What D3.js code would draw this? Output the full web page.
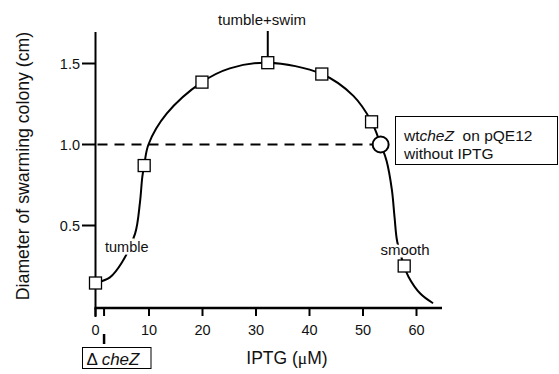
<!DOCTYPE html>
<html>
<head>
<meta charset="utf-8">
<script src="https://cdn.jsdelivr.net/npm/d3@7"></script>
<style>
  body { margin: 0; background: #fff; }
  svg { display: block; }
  text { font-family: "Liberation Sans", Arial, Helvetica, sans-serif; fill: #111; }
</style>
</head>
<body>
<svg id="chart" width="559" height="374"></svg>
<script>
// measured points (squares)
const iptg = [0, 9.1, 19.9, 32.2, 42.3, 51.6, 57.7];
const diameter = [0.145, 0.87, 1.385, 1.505, 1.435, 1.14, 0.25];

// hand-drawn trend curve through the points
const curveX = [0, 2.7, 4.9, 7.4, 8.3, 8.75, 9.1, 9.9, 13.3, 19.9, 25.1, 32.2, 42.3, 48.2, 51.6, 53.3, 54.4, 55.4, 55.9, 56.4, 57.7, 58.5, 60.7, 63.1];
const curveY = [0.145, 0.18, 0.27, 0.45, 0.64, 0.80, 0.87, 1.0, 1.19, 1.385, 1.47, 1.505, 1.435, 1.30, 1.14, 1.0, 0.90, 0.72, 0.55, 0.40, 0.25, 0.184, 0.08, 0.02];

// wild-type cheZ reference
const wtIptg = 53.3, wtDiameter = 1.0;
const deltaIptg = 1.6;

const xTicks = [0, 10, 20, 30, 40, 50, 60];
const yTicks = [0.5, 1.0, 1.5];

const svg = d3.select("#chart");
const x = d3.scaleLinear().domain([0, 60]).range([95.5, 416.5]);
const y = d3.scaleLinear().domain([0, 1.5]).range([306.5, 63.5]);

const axisY0 = 308; // x-axis baseline
const sw = 2;

// axes lines
svg.append("line")
  .attr("x1", x(0)).attr("x2", x(0))
  .attr("y1", 32).attr("y2", 317)
  .attr("stroke", "#000").attr("stroke-width", sw);
svg.append("line")
  .attr("x1", x(0) - 1).attr("x2", 442)
  .attr("y1", axisY0).attr("y2", axisY0)
  .attr("stroke", "#000").attr("stroke-width", 2.4);

// y ticks
let yt = svg.append("g").selectAll("g").data(yTicks).join("g");
yt.append("line")
  .attr("x1", 82).attr("x2", x(0))
  .attr("y1", d => y(d)).attr("y2", d => y(d))
  .attr("stroke", "#000").attr("stroke-width", sw);
yt.append("text")
  .attr("x", 80).attr("y", d => y(d) + 5)
  .attr("text-anchor", "end")
  .style("font-size", "14.5px")
  .text(d => d.toFixed(1));

// x ticks
let xt = svg.append("g").selectAll("g").data(xTicks).join("g");
xt.append("line")
  .attr("x1", d => x(d)).attr("x2", d => x(d))
  .attr("y1", axisY0).attr("y2", 316)
  .attr("stroke", "#000").attr("stroke-width", sw);
xt.append("text")
  .attr("x", d => x(d)).attr("y", 335)
  .attr("text-anchor", "middle")
  .style("font-size", "14.5px")
  .text(d => d);

// delta cheZ marker
svg.append("line")
  .attr("x1", x(deltaIptg)).attr("x2", x(deltaIptg))
  .attr("y1", axisY0).attr("y2", 316)
  .attr("stroke", "#000").attr("stroke-width", sw);
svg.append("line")
  .attr("x1", x(deltaIptg)).attr("x2", x(deltaIptg))
  .attr("y1", 334).attr("y2", 344)
  .attr("stroke", "#000").attr("stroke-width", 2.5);
svg.append("rect")
  .attr("x", 82.5).attr("y", 347.5).attr("width", 68.5).attr("height", 21)
  .attr("fill", "#fff").attr("stroke", "#000").attr("stroke-width", 1);
let dz = svg.append("text").attr("x", 86.5).attr("y", 364.5).style("font-size", "17px");
dz.append("tspan").text("\u0394 ");
dz.append("tspan").style("font-style", "italic").text("cheZ");

// axis titles
svg.append("text")
  .attr("transform", "translate(29,166) rotate(-90)")
  .attr("text-anchor", "middle")
  .style("font-size", "17.7px")
  .text("Diameter of swarming colony (cm)");
let xl = svg.append("text").attr("x", 287).attr("y", 364)
  .attr("text-anchor", "middle").style("font-size", "17.5px");
xl.append("tspan").text("IPTG (");
xl.append("tspan").style("font-family", "'Liberation Serif', 'Times New Roman', serif").text("\u03bc");
xl.append("tspan").text("M)");

// dashed reference line
svg.append("line")
  .attr("x1", x(0) + 2).attr("x2", x(wtIptg) - 8)
  .attr("y1", y(wtDiameter)).attr("y2", y(wtDiameter))
  .attr("stroke", "#000").attr("stroke-width", sw)
  .attr("stroke-dasharray", "10,7");

// trend curve
const line = d3.line()
  .x(d => x(d[0])).y(d => y(d[1]))
  .curve(d3.curveCatmullRom.alpha(0.5));
svg.append("path")
  .attr("d", line(d3.zip(curveX, curveY)))
  .attr("fill", "none").attr("stroke", "#000").attr("stroke-width", sw);

// labels with white halo over the curve
function label(tx, ty, s, anchor, size) {
  return svg.append("text")
    .attr("x", tx).attr("y", ty)
    .attr("text-anchor", anchor || "start")
    .style("font-size", size || "15px")
    .attr("stroke", "#fff").attr("stroke-width", 5)
    .attr("paint-order", "stroke")
    .text(s);
}
label(105, 252, "tumble", "start", "14.5px");
label(405, 255, "smooth", "middle");
label(262, 25, "tumble+swim", "middle");

// pointer to peak
svg.append("line")
  .attr("x1", x(iptg[3])).attr("x2", x(iptg[3]))
  .attr("y1", 31).attr("y2", y(diameter[3]) - 6)
  .attr("stroke", "#000").attr("stroke-width", sw);

// squares
svg.append("g").selectAll("rect")
  .data(d3.zip(iptg, diameter))
  .join("rect")
  .attr("x", d => x(d[0]) - 6).attr("y", d => y(d[1]) - 6)
  .attr("width", 12).attr("height", 12)
  .attr("fill", "#fff").attr("stroke", "#000").attr("stroke-width", 1.3);

// wt circle
svg.append("circle")
  .attr("cx", x(wtIptg)).attr("cy", y(wtDiameter)).attr("r", 8)
  .attr("fill", "#fff").attr("stroke", "#000").attr("stroke-width", sw);

// wt box
svg.append("rect")
  .attr("x", 395.5).attr("y", 116.5).attr("width", 162).attr("height", 48)
  .attr("fill", "#fff").attr("stroke", "#000").attr("stroke-width", 1);
let wt = svg.append("text").attr("x", 404).attr("y", 140.5).style("font-size", "15.5px");
wt.append("tspan").text("wt");
wt.append("tspan").style("font-style", "italic").text("cheZ");
wt.append("tspan").text("\u00a0 on pQE12");
svg.append("text").attr("x", 404).attr("y", 159).style("font-size", "15.5px").text("without IPTG");
</script>
</body>
</html>
